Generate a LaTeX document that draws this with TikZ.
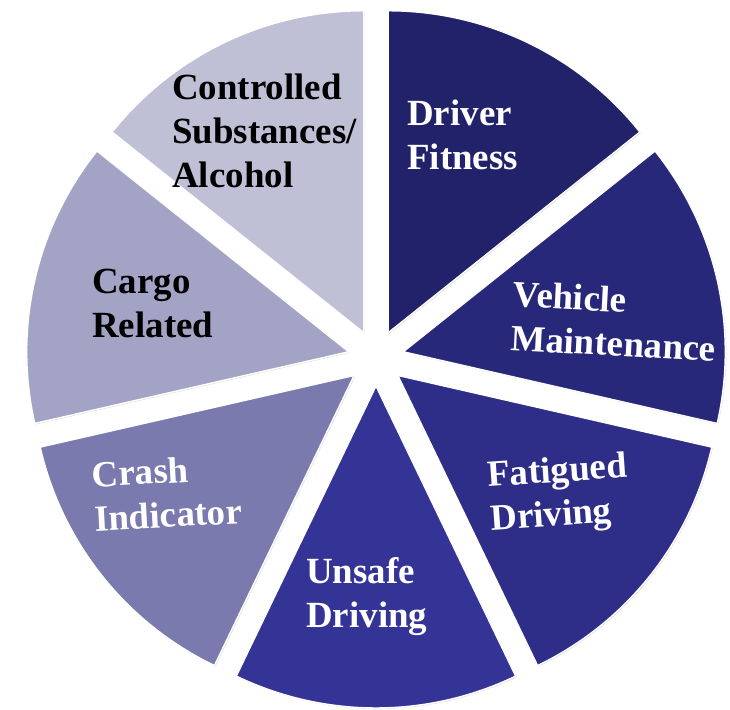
\documentclass[tikz,border=0pt]{standalone}
\usepackage{fontspec}
\setmainfont{Liberation Serif}
\usepackage{tikz}
\usetikzlibrary{shadows}

\definecolor{fitness}{RGB}{34,34,106}
\definecolor{vehicle}{RGB}{40,40,122}
\definecolor{fatigue}{RGB}{46,46,136}
\definecolor{unsafe}{RGB}{52,52,150}
\definecolor{crash}{RGB}{122,122,174}
\definecolor{cargo}{RGB}{163,163,197}
\definecolor{substances}{RGB}{191,191,214}

\tikzset{
    slice/.style={draw=white, line width=0.8pt, drop shadow={shadow xshift=0.6pt, shadow yshift=-0.6pt, opacity=0.25}}, % one piece of the pie
    sectortext/.style={anchor=west, align=left, inner sep=0pt, font=\fontsize{21}{25}\selectfont\bfseries}, % the text inside a piece
    }

\begin{document}
\begin{tikzpicture}
    \useasboundingbox (-7.52,-7.04) rectangle (7.08,7.16);

    % seven pieces of 360/7 degrees, each pushed out along its middle
    \draw[slice, fill=fitness, shift={(64.29:0.56)}] (0,0) -- (90:6.44) arc[start angle=90, end angle=38.57, radius=6.44] -- cycle;
    \draw[slice, fill=vehicle, shift={(12.86:0.56)}] (0,0) -- (38.57:6.44) arc[start angle=38.57, end angle=-12.86, radius=6.44] -- cycle;
    \draw[slice, fill=fatigue, shift={(-38.57:0.56)}] (0,0) -- (-12.86:6.44) arc[start angle=-12.86, end angle=-64.29, radius=6.44] -- cycle;
    \draw[slice, fill=unsafe, shift={(-90:0.56)}] (0,0) -- (-64.29:6.44) arc[start angle=-64.29, end angle=-115.71, radius=6.44] -- cycle;
    \draw[slice, fill=crash, shift={(-141.43:0.56)}] (0,0) -- (-115.71:6.44) arc[start angle=-115.71, end angle=-167.14, radius=6.44] -- cycle;
    \draw[slice, fill=cargo, shift={(167.14:0.56)}] (0,0) -- (192.86:6.44) arc[start angle=192.86, end angle=141.43, radius=6.44] -- cycle;
    \draw[slice, fill=substances, shift={(115.71:0.56)}] (0,0) -- (141.43:6.44) arc[start angle=141.43, end angle=90, radius=6.44] -- cycle;

    \node[sectortext, text=white] at (0.62,4.47) (FITNESS) {Driver\\Fitness};
    \node[sectortext, text=white, rotate=-3] at (2.72,0.84) (VEHICLE) {Vehicle\\Maintenance};
    \node[sectortext, text=white, rotate=4] at (2.26,-2.84) (FATIGUE) {Fatigued\\Driving};
    \node[sectortext, text=white] at (-1.40,-4.77) (UNSAFE) {Unsafe\\Driving};
    \node[sectortext, text=white, rotate=3] at (-5.66,-2.77) (CRASH) {Crash\\Indicator};
    \node[sectortext, text=black] at (-5.68,1.09) (CARGO) {Cargo\\Related};
    \node[sectortext, text=black] at (-4.08,4.54) (SUBSTANCES) {Controlled\\Substances/\\Alcohol};

\end{tikzpicture}
\end{document}
